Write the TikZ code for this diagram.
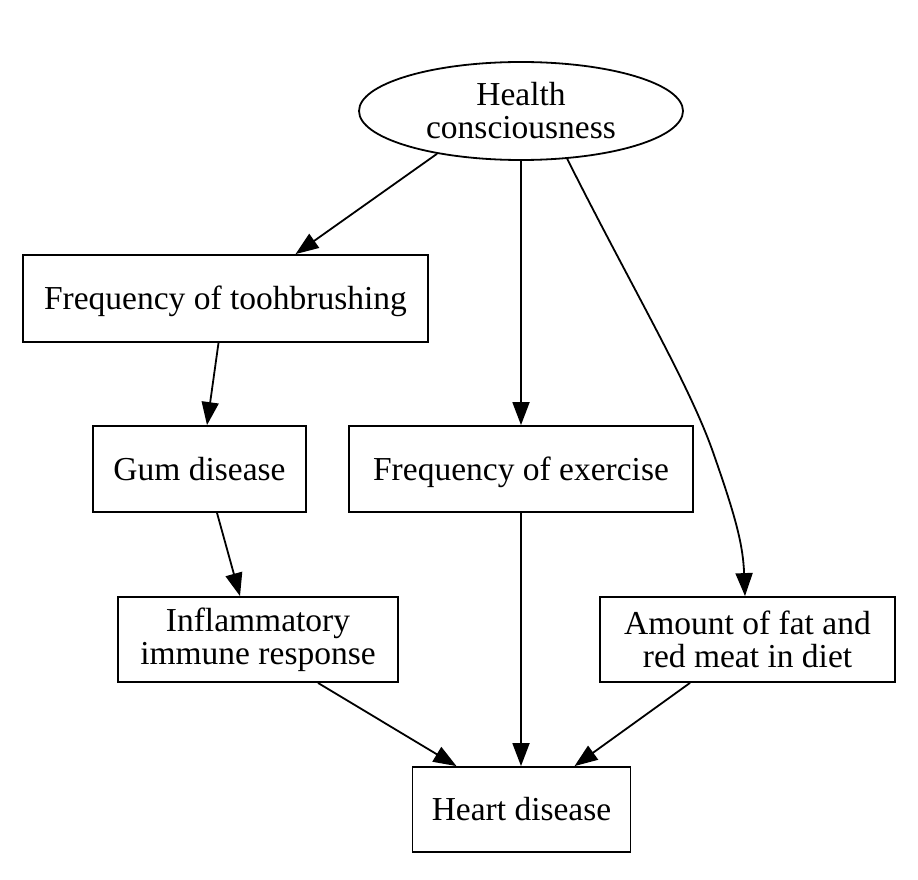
\documentclass[tikz,border=0pt]{standalone}
\usepackage{fontspec}
\setmainfont{Liberation Serif}
\usetikzlibrary{arrows.meta,shapes.geometric,calc}
\begin{document}
\begin{tikzpicture}[x=1pt,y=-1pt,
  lbl/.style={draw,line width=1.8pt,inner sep=0pt,align=center,font=\fontsize{33.5}{33}\selectfont},
  box/.style={lbl,rectangle},
  onebox/.style={box,text height=22pt,text depth=0pt},
  oval/.style={lbl,ellipse},
  edge/.style={line width=1.8pt,-{Triangle[length=23pt,width=17pt]}}
]
\useasboundingbox (0,0) rectangle (918,880);
\fill[white] (0,0) rectangle (918,880);

\node[oval,minimum width=324pt,minimum height=98pt] (hc) at (521,111) {Health\\consciousness};
\node[onebox,minimum width=405pt,minimum height=87pt] (tb) at (225.5,298.5) {Frequency of toohbrushing};
\node[onebox,minimum width=213pt,minimum height=86pt] (gum) at (199.5,469) {Gum disease};
\node[onebox,minimum width=344pt,minimum height=86pt] (ex) at (521,469) {Frequency of exercise};
\node[box,minimum width=280pt,minimum height=85pt] (inf) at (258,639.5) {Inflammatory\\immune response};
\node[box,minimum width=295pt,minimum height=85pt] (fat) at (747.5,639.5) {Amount of fat and\\red meat in diet};
\node[onebox,minimum width=218pt,minimum height=85pt] (heart) at (521.5,809.5) {Heart disease};

\draw[edge] (hc.207) -- ($(tb.north)+(70,0)$);
\draw[edge] (hc.south) -- (hc.south |- ex.north);
\draw[edge] (hc.-46) .. controls (632,288) and (690,385) .. (714,455)
  .. controls (736,518) and (743,545) .. ($(fat.north)+(-2.5,0)$);
\draw[edge] ($(tb.south)+(-7,0)$) -- ($(gum.north)+(7.5,0)$);
\draw[edge] ($(gum.south)+(17.5,0)$) -- ($(inf.north)+(-18,0)$);
\draw[edge] ($(inf.south)+(60,0)$) -- ($(heart.north)+(-65,0)$);
\draw[edge] (ex.south) -- (ex.south |- heart.north);
\draw[edge] ($(fat.south)+(-57.5,0)$) -- ($(heart.north)+(53,0)$);
\end{tikzpicture}
\end{document}
